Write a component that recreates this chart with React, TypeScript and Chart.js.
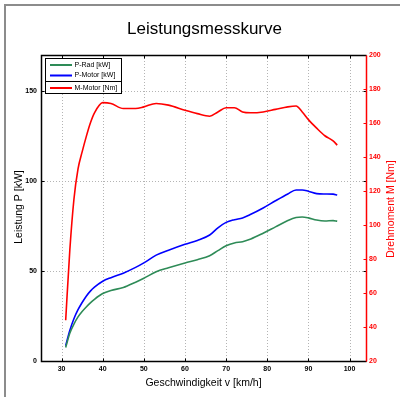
import React, { useEffect, useRef } from "react";
import { Chart, registerables } from "chart.js";

Chart.register(...registerables);

// ---- data ----
const speed = [31, 32, 33, 34, 35, 36, 37, 38, 40, 42, 45, 48, 50, 53, 56, 60, 63, 66, 68, 70, 72, 74, 76, 79, 82, 85, 87, 88.5, 90, 92, 94, 96, 97];
const pRad = [7.5, 15.4, 20.5, 24.5, 27.5, 30, 32.3, 34.3, 37.5, 39.2, 40.8, 43.8, 46, 49.6, 51.8, 54.5, 56.3, 58.5, 61.3, 64, 65.6, 66.3, 67.8, 71, 74.5, 78, 79.7, 80, 79.5, 78.3, 77.8, 78, 77.7];
const pMotor = [8.5, 17, 23.5, 28.5, 32.5, 36, 38.8, 41, 44.3, 46.3, 48.8, 52, 54.5, 58.8, 61.5, 64.8, 67, 70, 74, 77, 78.5, 79.5, 81.5, 85, 89, 92.8, 95, 95, 94.3, 93, 92.8, 92.7, 92.2];
const mMotor = [44, 85, 115, 133, 143, 152, 160, 166, 172, 171.5, 168.5, 168.5, 169.5, 171.5, 170.5, 167.5, 165.5, 164, 166.5, 169, 169, 166.5, 166, 166.5, 168, 169.5, 170, 166.5, 162, 157, 152.5, 149.5, 147];

const xTicks = [30, 40, 50, 60, 70, 80, 90, 100];
const leftTicks = [0, 50, 100, 150];
const rightTicks = [20, 40, 60, 80, 100, 120, 140, 160, 180, 200];
const legendLabels = ["P-Rad [kW]", "P-Motor [kW]", "M-Motor [Nm]"];
const seriesColors = ["#2e8b57", "#0000ff", "#ff0000"];
const titleText = "Leistungsmesskurve";
const xTitle = "Geschwindigkeit v [km/h]";
const yTitle = "Leistung P [kW]";
const y1Title = "Drehmoment M [Nm]";

const FONT = '"Liberation Sans", Arial, Helvetica, sans-serif';

const framePlugin = {
  id: "matlabFrame",
  beforeDatasetsDraw(chart: any) {
    const { ctx, chartArea: a, scales } = chart;
    ctx.save();
    ctx.strokeStyle = "#b4b4b4";
    ctx.lineWidth = 1;
    ctx.setLineDash([1, 2]);
    xTicks.forEach((v) => {
      const px = Math.round(scales.x.getPixelForValue(v)) + 0.5;
      ctx.beginPath();
      ctx.moveTo(px, a.top);
      ctx.lineTo(px, a.bottom);
      ctx.stroke();
    });
    leftTicks.forEach((v) => {
      if (v === 0) return;
      const py = Math.round(scales.y.getPixelForValue(v)) + 0.5;
      ctx.beginPath();
      ctx.moveTo(a.left, py);
      ctx.lineTo(a.right, py);
      ctx.stroke();
    });
    ctx.restore();
  },
  afterDatasetsDraw(chart: any) {
    const { ctx, chartArea: a, scales } = chart;
    ctx.save();
    ctx.setLineDash([]);
    const L = Math.round(a.left) + 0.5;
    const R = Math.round(a.right) + 0.5;
    const T = Math.round(a.top) + 0.5;
    const B = Math.round(a.bottom) + 0.5;
    const tl = 3;
    ctx.lineWidth = 1;
    ctx.strokeStyle = "#000";
    xTicks.forEach((v) => {
      const px = Math.round(scales.x.getPixelForValue(v)) + 0.5;
      ctx.beginPath();
      ctx.moveTo(px, B);
      ctx.lineTo(px, B - tl);
      ctx.moveTo(px, T);
      ctx.lineTo(px, T + tl);
      ctx.stroke();
    });
    leftTicks.forEach((v) => {
      const py = Math.round(scales.y.getPixelForValue(v)) + 0.5;
      ctx.beginPath();
      ctx.moveTo(L, py);
      ctx.lineTo(L + tl, py);
      ctx.moveTo(R, py);
      ctx.lineTo(R - tl, py);
      ctx.stroke();
    });
    ctx.strokeStyle = "#ff0000";
    rightTicks.forEach((v) => {
      const py = Math.round(scales.y1.getPixelForValue(v)) + 0.5;
      ctx.beginPath();
      ctx.moveTo(R, py);
      ctx.lineTo(R - tl, py);
      ctx.stroke();
    });
    ctx.lineWidth = 1.5;
    ctx.strokeStyle = "#000";
    ctx.beginPath();
    ctx.moveTo(R, T);
    ctx.lineTo(L, T);
    ctx.lineTo(L, B);
    ctx.lineTo(R, B);
    ctx.stroke();
    ctx.strokeStyle = "#ff0000";
    ctx.beginPath();
    ctx.moveTo(R, T);
    ctx.lineTo(R, B);
    ctx.stroke();
    ctx.restore();
  },
  afterDraw(chart: any) {
    const { ctx, chartArea: a } = chart;
    ctx.save();
    ctx.fillStyle = "#8c8c8c";
    ctx.fillRect(4, 4, 396, 2);
    ctx.fillRect(4, 4, 2, 393);
    ctx.fillStyle = "#000";
    ctx.font = `17px ${FONT}`;
    ctx.textAlign = "center";
    ctx.textBaseline = "alphabetic";
    ctx.fillText(titleText, (a.left + a.right) / 2 + 1, 33.5);
    ctx.font = `10.5px ${FONT}`;
    ctx.fillText(xTitle, (a.left + a.right) / 2, 386);
    ctx.save();
    ctx.translate(21.5, 207);
    ctx.rotate(-Math.PI / 2);
    ctx.fillText(yTitle, 0, 0);
    ctx.restore();
    ctx.save();
    ctx.fillStyle = "#ff0000";
    ctx.translate(393.5, 209);
    ctx.rotate(-Math.PI / 2);
    ctx.fillText(y1Title, 0, 0);
    ctx.restore();
    const bx = 45.5, by = 58.5, bw = 76, bh = 35, sep = 81.5;
    ctx.fillStyle = "#fff";
    ctx.fillRect(bx, by, bw, bh);
    ctx.strokeStyle = "#000";
    ctx.lineWidth = 1;
    ctx.strokeRect(bx, by, bw, bh);
    ctx.beginPath();
    ctx.moveTo(bx, sep);
    ctx.lineTo(bx + bw, sep);
    ctx.stroke();
    const ys = [65, 75.5, 88];
    ctx.font = `7px ${FONT}`;
    ctx.textAlign = "left";
    ctx.textBaseline = "middle";
    legendLabels.forEach((lab, i) => {
      ctx.strokeStyle = seriesColors[i];
      ctx.lineWidth = 2;
      ctx.beginPath();
      ctx.moveTo(50, ys[i]);
      ctx.lineTo(72, ys[i]);
      ctx.stroke();
      ctx.fillStyle = "#000";
      ctx.fillText(lab, 74.5, ys[i]);
    });
    ctx.restore();
  },
};

export default function App() {
  const ref = useRef<HTMLCanvasElement>(null);
  useEffect(() => {
    document.body.style.margin = "0";
    const pts = (arr: number[]) => speed.map((v, i) => ({ x: v, y: arr[i] }));
    const mk = (i: number, arr: number[], axis: string) => ({
      label: legendLabels[i],
      data: pts(arr),
      borderColor: seriesColors[i],
      backgroundColor: seriesColors[i],
      borderWidth: 1.6,
      pointRadius: 0,
      cubicInterpolationMode: "monotone" as const,
      fill: false,
      yAxisID: axis,
    });
    const tickFont = { family: FONT, size: 7, weight: "bold" as const };
    const noGrid = { display: false, drawTicks: false, tickLength: 0 };
    const chart = new Chart(ref.current as HTMLCanvasElement, {
      type: "line",
      data: {
        datasets: [mk(0, pRad, "y"), mk(1, pMotor, "y"), mk(2, mMotor, "y1")],
      },
      plugins: [framePlugin],
      options: {
        responsive: false,
        animation: false,
        layout: { padding: { top: 55, left: 0, right: 0, bottom: 0 } },
        plugins: { legend: { display: false }, title: { display: false }, tooltip: { enabled: false } },
        scales: {
          x: {
            type: "linear",
            min: 25,
            max: 104,
            grid: noGrid,
            border: { display: false },
            ticks: { font: tickFont, color: "#000", padding: 4, maxRotation: 0 },
            afterBuildTicks: (s: any) => {
              s.ticks = xTicks.map((v) => ({ value: v }));
            },
            afterFit: (s: any) => {
              s.height = 36;
            },
          },
          y: {
            type: "linear",
            position: "left",
            min: 0,
            max: 170,
            grid: noGrid,
            border: { display: false },
            ticks: { font: tickFont, color: "#000", padding: 4 },
            afterBuildTicks: (s: any) => {
              s.ticks = leftTicks.map((v) => ({ value: v }));
            },
            afterFit: (s: any) => {
              s.width = 41;
            },
          },
          y1: {
            type: "linear",
            position: "right",
            min: 20,
            max: 200,
            grid: noGrid,
            border: { display: false },
            ticks: { font: tickFont, color: "#ff0000", padding: 3 },
            afterBuildTicks: (s: any) => {
              s.ticks = rightTicks.map((v) => ({ value: v }));
            },
            afterFit: (s: any) => {
              s.width = 34;
            },
          },
        },
      },
    } as any);
    return () => chart.destroy();
  }, []);
  return <canvas ref={ref} width={400} height={397} style={{ display: "block" }} />;
}
